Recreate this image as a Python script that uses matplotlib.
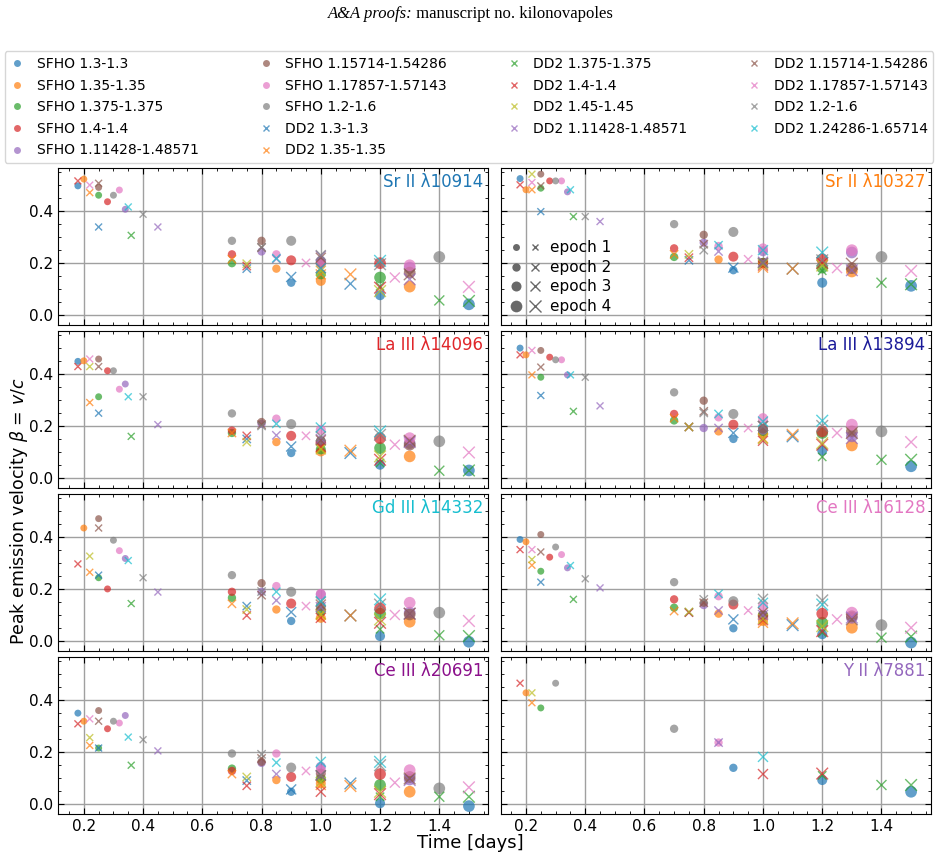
import numpy as np
import matplotlib
matplotlib.use("Agg")
import matplotlib.pyplot as plt
from matplotlib.lines import Line2D
from matplotlib.legend_handler import HandlerTuple
from matplotlib.ticker import MultipleLocator

nan = np.nan

MODELS = ["SFHO 1.3-1.3", "SFHO 1.35-1.35", "SFHO 1.375-1.375", "SFHO 1.4-1.4",
          "SFHO 1.11428-1.48571", "SFHO 1.15714-1.54286", "SFHO 1.17857-1.57143", "SFHO 1.2-1.6",
          "DD2 1.3-1.3", "DD2 1.35-1.35", "DD2 1.375-1.375", "DD2 1.4-1.4", "DD2 1.45-1.45",
          "DD2 1.11428-1.48571", "DD2 1.15714-1.54286", "DD2 1.17857-1.57143", "DD2 1.2-1.6",
          "DD2 1.24286-1.65714"]

# observation times [days] for epochs 1-4 of each model
TIMES = [
    [0.18, 0.90, 1.20, 1.50], [0.20, 0.85, 1.00, 1.30], [0.25, 0.70, 1.00, 1.20],
    [0.28, 0.70, 0.90, 1.20], [0.34, 0.80, 1.00, 1.30], [0.25, 0.80, 1.00, 1.30],
    [0.32, 0.85, 1.00, 1.30], [0.30, 0.70, 0.90, 1.40],
    [0.25, 0.75, 0.90, 1.10], [0.22, 0.70, 1.00, 1.10], [0.36, 1.20, 1.40, 1.50],
    [0.18, 0.75, 1.00, 1.20], [0.22, 0.75, 1.00, 1.20], [0.45, 0.85, 1.00, 1.30],
    [0.25, 0.80, 1.00, 1.30], [0.22, 0.95, 1.25, 1.50], [0.40, 0.80, 1.00, 1.20],
    [0.35, 0.85, 1.00, 1.20],
]

PANEL_TITLES = ["Sr II λ10914", "Sr II λ10327", "La III λ14096", "La III λ13894",
                "Gd III λ14332", "Ce III λ16128", "Ce III λ20691", "Y II λ7881"]

SR_10914 = [
    [0.496, 0.124, 0.076, 0.041], [0.522, 0.178, 0.131, 0.109], [0.46, 0.199, 0.156, 0.144],
    [0.435, 0.233, 0.21, 0.199], [0.406, 0.244, 0.208, 0.182], [0.49, 0.285, 0.2, 0.163],
    [0.48, 0.233, 0.195, 0.191], [0.46, 0.285, 0.285, 0.223],
    [0.338, 0.178, 0.146, 0.12], [0.47, 0.214, 0.156, 0.156], [0.306, 0.11, 0.056, 0.054],
    [0.515, 0.188, 0.18, 0.105], [nan, 0.197, 0.17, 0.092], [0.338, 0.215, 0.227, 0.137],
    [0.506, 0.259, 0.22, 0.156], [0.499, 0.2, 0.144, 0.108], [0.387, 0.26, 0.23, 0.195],
    [0.415, 0.218, 0.18, 0.208],
]
SR_10327 = [
    [0.524, 0.172, 0.124, 0.112], [0.481, 0.213, 0.2, 0.167], [0.487, 0.223, 0.2, 0.182],
    [0.515, 0.256, 0.224, 0.214], [0.473, 0.278, 0.245, 0.24], [0.541, 0.308, 0.2, 0.18],
    [0.515, 0.265, 0.256, 0.249], [0.515, 0.349, 0.319, 0.223],
    [0.397, 0.21, 0.182, 0.178], [0.481, 0.233, 0.182, 0.178], [0.378, 0.17, 0.124, 0.118],
    [0.5, 0.22, 0.19, 0.2], [0.541, 0.233, 0.195, 0.19], [0.359, 0.244, 0.205, 0.172],
    [0.496, 0.272, 0.2, 0.197], [0.509, 0.214, 0.18, 0.169], [0.378, 0.249, 0.2, 0.21],
    [0.481, 0.268, 0.249, 0.24],
]
LA_14096 = [
    [0.448, 0.096, 0.051, 0.029], [0.45, 0.138, 0.102, 0.083], [0.312, 0.173, 0.11, 0.115],
    [0.412, 0.182, 0.162, 0.153], [0.361, 0.208, 0.141, 0.134], [0.457, 0.215, 0.141, 0.128],
    [0.341, 0.228, 0.185, 0.153], [0.412, 0.248, 0.207, 0.141],
    [0.249, 0.15, 0.121, 0.096], [0.29, 0.173, 0.115, 0.105], [0.16, 0.058, 0.028, 0.029],
    [0.428, 0.162, 0.12, 0.07], [0.428, 0.138, 0.11, 0.083], [0.205, 0.164, 0.15, 0.138],
    [0.428, 0.205, 0.145, 0.143], [0.457, 0.162, 0.128, 0.098], [0.312, 0.2, 0.16, 0.166],
    [0.312, 0.208, 0.194, 0.179],
]
LA_13894 = [
    [0.499, 0.15, 0.105, 0.045], [0.473, 0.179, 0.17, 0.125], [0.387, 0.221, 0.18, 0.173],
    [0.464, 0.246, 0.205, 0.179], [0.396, 0.192, 0.185, 0.16], [0.49, 0.297, 0.19, 0.179],
    [0.454, 0.233, 0.23, 0.205], [0.454, 0.329, 0.246, 0.179],
    [0.317, 0.196, 0.173, 0.16], [0.396, 0.23, 0.153, 0.166], [0.256, 0.081, 0.07, 0.07],
    [0.473, 0.196, 0.143, 0.128], [nan, 0.196, 0.15, 0.134], [0.277, 0.192, 0.2, 0.153],
    [0.426, 0.256, 0.2, 0.173], [0.49, 0.192, 0.173, 0.138], [0.387, 0.25, 0.2, 0.2],
    [0.396, 0.246, 0.217, 0.22],
]
GD_14332 = [
    [nan, 0.077, 0.019, -0.003], [0.434, 0.121, 0.089, 0.074], [0.243, 0.166, 0.115, 0.105],
    [0.2, 0.189, 0.144, 0.125], [0.317, 0.189, 0.179, 0.109], [0.47, 0.222, 0.134, 0.102],
    [0.347, 0.211, 0.181, 0.147], [0.387, 0.253, 0.189, 0.109],
    [0.253, 0.134, 0.111, 0.098], [0.264, 0.143, 0.102, 0.098], [0.144, 0.045, 0.022, 0.019],
    [0.296, 0.098, 0.089, 0.07], [0.326, 0.121, 0.102, 0.083], [0.188, 0.156, 0.13, 0.105],
    [0.434, 0.176, 0.14, 0.105], [nan, 0.134, 0.1, 0.077], [0.243, 0.19, 0.15, 0.14],
    [0.309, 0.189, 0.153, 0.16],
]
CE_16128 = [
    [0.39, 0.049, 0.026, -0.006], [0.381, 0.105, 0.077, 0.051], [0.268, 0.128, 0.1, 0.07],
    [0.322, 0.16, 0.14, 0.105], [0.281, 0.138, 0.096, 0.089], [0.409, 0.147, 0.1, 0.095],
    [0.332, 0.172, 0.134, 0.109], [0.361, 0.226, 0.153, 0.061],
    [0.226, 0.11, 0.083, 0.061], [0.291, 0.115, 0.07, 0.068], [0.16, 0.032, 0.013, 0.017],
    [0.351, 0.109, 0.08, 0.038], [0.313, 0.112, 0.085, 0.057], [0.204, 0.117, 0.1, 0.09],
    [0.342, 0.147, 0.11, 0.083], [0.351, 0.117, 0.083, 0.051], [0.239, 0.16, 0.162, 0.156],
    [0.29, 0.181, 0.147, 0.14],
]
CE_20691 = [
    [0.349, 0.047, 0.003, -0.008], [0.318, 0.092, 0.079, 0.047], [0.215, 0.136, 0.098, 0.073],
    [0.289, 0.127, 0.104, 0.115], [0.34, 0.158, 0.143, 0.094], [0.359, 0.162, 0.117, 0.104],
    [0.311, 0.194, 0.13, 0.13], [0.318, 0.194, 0.14, 0.06],
    [0.215, 0.09, 0.056, 0.079], [0.225, 0.115, 0.073, 0.069], [0.149, 0.028, 0.028, 0.028],
    [0.308, 0.07, 0.047, 0.038], [0.255, 0.104, 0.085, 0.047], [0.204, 0.115, 0.11, 0.092],
    [0.318, 0.175, 0.11, 0.098], [0.327, 0.127, 0.082, 0.064], [0.247, 0.191, 0.11, 0.149],
    [0.257, 0.159, 0.162, 0.162],
]
Y_7881 = [
    [nan, 0.139, 0.092, 0.047], [0.427, nan, nan, nan], [0.369, nan, nan, nan],
    [nan, nan, nan, nan], [nan, nan, nan, nan], [nan, nan, nan, nan],
    [nan, 0.236, nan, nan], [0.464, 0.289, nan, nan],
    [nan, nan, nan, nan], [0.389, nan, nan, nan], [nan, 0.11, 0.073, 0.073],
    [0.464, nan, 0.115, 0.117], [0.427, nan, nan, nan], [nan, 0.236, nan, nan],
    [nan, nan, nan, nan], [nan, nan, nan, nan], [nan, nan, nan, nan],
    [nan, nan, 0.181, nan],
]
PANEL_DATA = [SR_10914, SR_10327, LA_14096, LA_13894, GD_14332, CE_16128, CE_20691, Y_7881]
EPOCH_LABELS = ["epoch 1", "epoch 2", "epoch 3", "epoch 4"]

# ---- styles ----
tab = plt.get_cmap("tab10").colors
COLORS = [tab[0], tab[1], tab[2], tab[3], tab[4], tab[5], tab[6], tab[7],
          tab[0], tab[1], tab[2], tab[3], tab[8], tab[4], tab[5], tab[6], tab[7], tab[9]]
MARKERS = ["o"] * 8 + ["x"] * 10
SIZES = [25, 36, 52, 71]
TITLE_COLORS = [tab[0], tab[1], "#e0262a", "#1a1a99", tab[9], tab[6], "#8b108b", tab[4]]

plt.rcParams["font.family"] = ["DejaVu Sans"]

fig, axes = plt.subplots(4, 2, figsize=(9.41, 8.61), dpi=100, sharex=True, sharey=True)
fig.subplots_adjust(left=0.062, right=0.989, bottom=0.055, top=0.805, wspace=0.028, hspace=0.04)

for k, ax in enumerate(axes.flat):
    data = PANEL_DATA[k]
    for m in range(len(MODELS)):
        t = np.array(TIMES[m])
        v = np.array(data[m], dtype=float)
        if MARKERS[m] == "o":
            ax.scatter(t, v, s=SIZES, marker="o", color=COLORS[m], alpha=0.7,
                       edgecolors="none", zorder=3)
        else:
            ax.scatter(t, v, s=SIZES, marker="x", color=COLORS[m], alpha=0.7,
                       linewidths=1.0, zorder=3)
    ax.text(0.988, 0.965, PANEL_TITLES[k], transform=ax.transAxes, ha="right", va="top",
            color=TITLE_COLORS[k], fontsize=12)
    ax.grid(True, which="major", color="#a0a0a0", lw=1.0)
    ax.set_axisbelow(True)
    ax.xaxis.set_major_locator(MultipleLocator(0.2))
    ax.xaxis.set_minor_locator(MultipleLocator(0.05))
    ax.yaxis.set_major_locator(MultipleLocator(0.2))
    ax.yaxis.set_minor_locator(MultipleLocator(0.05))
    ax.tick_params(which="both", direction="in", top=True, right=True, labelsize=11)
    ax.tick_params(which="major", length=4)
    ax.tick_params(which="minor", length=2)
    ax.set_xlim(0.114, 1.566)
    ax.set_ylim(-0.037, 0.565)

# epoch legend in the Sr II 10327 panel
ep_handles = []
for e in range(4):
    ms = np.sqrt(SIZES[e])
    c = Line2D([], [], marker="o", ls="none", color="dimgray", ms=ms, markeredgewidth=0)
    x = Line2D([], [], marker="x", ls="none", color="dimgray", ms=ms, markeredgewidth=1.0)
    ep_handles.append((c, x))
axes[0, 1].legend(ep_handles, EPOCH_LABELS, handler_map={tuple: HandlerTuple(ndivide=None, pad=0.5)},
                  loc="lower left", bbox_to_anchor=(-0.01, -0.02), frameon=False, fontsize=11,
                  handlelength=2.0, labelspacing=0.3, handletextpad=0.6)

# model legend
handles = []
for m in range(len(MODELS)):
    if MARKERS[m] == "o":
        h = Line2D([], [], marker="o", ls="none", color=COLORS[m], alpha=0.7, ms=5, markeredgewidth=0)
    else:
        h = Line2D([], [], marker="x", ls="none", color=COLORS[m], alpha=0.7, ms=5, markeredgewidth=1.0)
    handles.append(h)
fig.legend(handles, MODELS, loc="lower left", bbox_to_anchor=(0.005, 0.8107, 0.987, 0.127),
           mode="expand", ncol=4, fontsize=10, labelspacing=0.55, handlelength=1.0,
           handletextpad=0.9, borderaxespad=0.0)

fig.text(0.5, 0.021, "Time [days]", ha="center", va="center", fontsize=13)
fig.text(0.02, 0.406, r"Peak emission velocity $\beta$ = $v/c$", rotation=90,
         ha="center", va="center", fontsize=12.5)

# header line
t1 = fig.text(0, 0.984, "A&A proofs:", family="Liberation Serif", style="italic", fontsize=12,
              va="center", ha="left")
t2 = fig.text(0, 0.984, " manuscript no. kilonovapoles", family="Liberation Serif", fontsize=12,
              va="center", ha="left")
fig.canvas.draw()
r = fig.canvas.get_renderer()
w1 = t1.get_window_extent(r).width / fig.bbox.width
w2 = t2.get_window_extent(r).width / fig.bbox.width
x0 = 0.5 - (w1 + w2) / 2
t1.set_x(x0)
t2.set_x(x0 + w1)

fig.savefig("out.png", dpi=100)
